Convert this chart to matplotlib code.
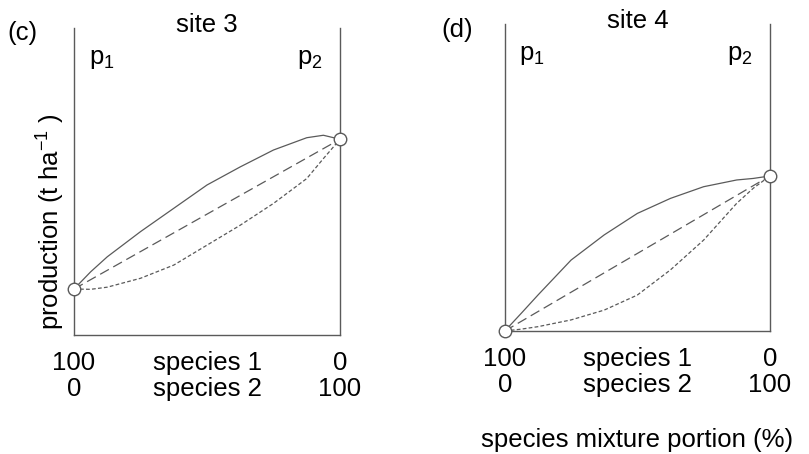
import matplotlib.pyplot as plt

plt.rcParams['font.family'] = ['Liberation Sans', 'DejaVu Sans']
plt.rcParams['mathtext.fontset'] = 'custom'
plt.rcParams['mathtext.rm'] = 'Liberation Sans'
plt.rcParams['mathtext.it'] = 'Liberation Sans:italic'

# portion of species 2 (%) and relative production
c_pure = [0, 100]
c_pure_y = [0.150, 0.638]
c_upper_x = [0, 6.25, 12.5, 25, 37.5, 50, 62.5, 75, 87.5, 93.75, 100]
c_upper_y = [0.150, 0.206, 0.255, 0.337, 0.413, 0.489, 0.548, 0.603, 0.643, 0.651, 0.638]
c_lower_x = [0, 6.25, 12.5, 25, 37.5, 50, 62.5, 75, 87.5, 93.75, 100]
c_lower_y = [0.150, 0.149, 0.156, 0.185, 0.228, 0.293, 0.358, 0.429, 0.510, 0.575, 0.638]

d_pure = [0, 100]
d_pure_y = [0.0, 0.505]
d_upper_x = [0, 6.25, 12.5, 25, 37.5, 50, 62.5, 75, 87.5, 93.75, 100]
d_upper_y = [0.0, 0.058, 0.117, 0.231, 0.313, 0.383, 0.432, 0.470, 0.492, 0.497, 0.505]
d_lower_x = [0, 6.25, 12.5, 25, 37.5, 50, 62.5, 75, 87.5, 93.75, 100]
d_lower_y = [0.0, 0.006, 0.014, 0.036, 0.068, 0.117, 0.199, 0.296, 0.416, 0.465, 0.505]

panels = [
    ('(c)', 'site 3', c_pure, c_pure_y, c_upper_x, c_upper_y, c_lower_x, c_lower_y),
    ('(d)', 'site 4', d_pure, d_pure_y, d_upper_x, d_upper_y, d_lower_x, d_lower_y),
]
tick_top = ['100', 'species 1', '0']
tick_bottom = ['0', 'species 2', '100']

col = '#5a5a5a'
fs = 18.5

fig = plt.figure(figsize=(8.09, 4.54), dpi=100)
rects = [(0.0915, 0.262, 0.3288, 0.676), (0.624, 0.271, 0.3276, 0.676)]
tag_pos = [(-0.195, 0.985), (-0.18, 0.98)]

for rect, tpos, (tag, site, px, py, ux, uy, lx, ly) in zip(rects, tag_pos, panels):
    ax = fig.add_axes(rect)
    ax.set_xlim(0, 100)
    ax.set_ylim(0, 1)
    for s in ['left', 'right', 'bottom']:
        ax.spines[s].set_color(col)
        ax.spines[s].set_linewidth(1.0)
    ax.spines['top'].set_visible(False)
    ax.set_xticks([])
    ax.set_yticks([])

    ax.plot(ux, uy, color=col, lw=0.9, clip_on=False)
    ax.plot(px, py, color=col, lw=0.9, dashes=(8, 4), clip_on=False)
    ax.plot(lx, ly, color=col, lw=0.9, dashes=(3, 1.8), clip_on=False)
    ax.plot(px, py, 'o', ms=9, mfc='white', mec=col, mew=1.0, clip_on=False, zorder=5)

    for x, t1, t2 in zip([0, 50, 100], tick_top, tick_bottom):
        ax.text(x, -0.092, t1, ha='center', va='center', fontsize=fs)
        ax.text(x, -0.176, t2, ha='center', va='center', fontsize=fs)

    ax.text(0.5, 1.01, site, transform=ax.transAxes, ha='center', va='center', fontsize=fs)
    ax.text(0.055, 0.9, r'p$_\mathregular{1}$', transform=ax.transAxes,
            ha='left', va='center', fontsize=fs)
    ax.text(0.84, 0.9, r'p$_\mathregular{2}$', transform=ax.transAxes,
            ha='left', va='center', fontsize=fs)
    ax.text(tpos[0], tpos[1], tag, transform=ax.transAxes, ha='center', va='center', fontsize=fs)

    if tag == '(c)':
        ax.text(-0.088, 0.37, r'production (t ha$^\mathregular{-1}$ )', transform=ax.transAxes,
                rotation=90, ha='center', va='center', fontsize=fs)
    else:
        ax.text(0.5, -0.355, 'species mixture portion (%)', transform=ax.transAxes,
                ha='center', va='center', fontsize=fs)

fig.savefig('out.png', dpi=100)
